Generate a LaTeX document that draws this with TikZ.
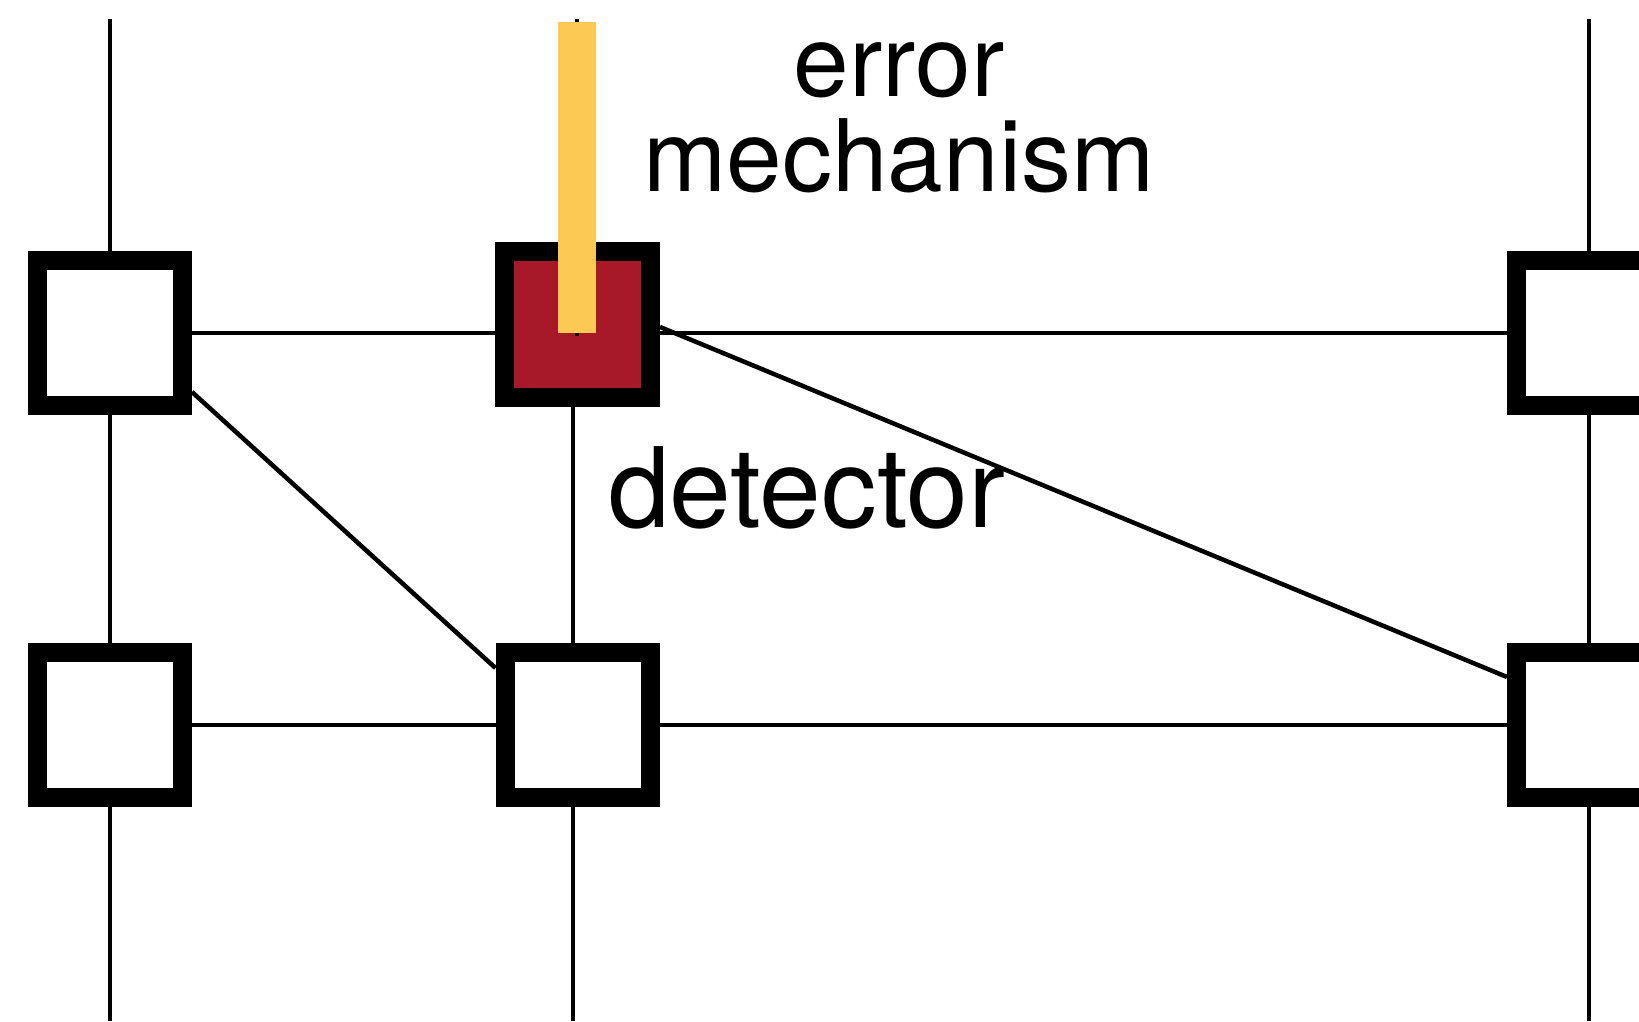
\documentclass[tikz,border=0pt]{standalone}
\usepackage{fontspec}
\setmainfont{TeX Gyre Heros}
\usetikzlibrary{calc}
\definecolor{errred}{RGB}{167,24,41}
\definecolor{erryellow}{RGB}{253,201,85}
\pgfdeclarelayer{bg}
\pgfsetlayers{bg,main}
\begin{document}
\begin{tikzpicture}[x=1pt,y=1pt,
  qbox/.style={draw=black,line width=19pt,fill=white,minimum size=145pt,inner sep=0pt},
  wire/.style={line width=4.5pt,draw=black},
  lbl/.style={inner sep=0pt,font=\fontsize{100}{95}\selectfont}]
\useasboundingbox (0,0) rectangle (1639,1021);
\node[qbox] (tl) at (110,688) {};
\node[qbox] (bl) at (110,296) {};
\node[qbox] (bm) at (577.5,296) {};
\node[qbox,fill=errred,minimum size=146pt] (em) at (577.5,696) {};
\node[qbox] (tr) at (1589,688) {};
\node[qbox] (br) at (1589,296) {};
\coordinate (lt) at (110,1002);
\coordinate (lb) at (110,0);
\coordinate (rt) at (1589,1002);
\coordinate (rb) at (1589,0);
\coordinate (mt) at (577,1002);
\coordinate (mk) at (577,685);
\coordinate (mb) at (573,0);
\begin{pgfonlayer}{bg}
\draw[wire] (lt) -- (lb);
\draw[wire] (rt) -- (rb);
\draw[wire] (em.south -| mb) -- (mb);
\draw[wire] (tl.center) -- (tr.center);
\draw[wire] (bl.center) -- (br.center);
\draw[wire] ($(tl.east)+(0,-59)$) -- ($(bm.west)+(0,57)$);
\draw[wire] ($(em.east)+(0,-2)$) -- ($(br.west)+(0,48)$);
\end{pgfonlayer}
\draw[wire] (mt) -- (mk);
\node[fill=erryellow,minimum width=38pt,minimum height=311pt,inner sep=0pt,outer sep=0pt,anchor=south] (bar) at (577,688) {};
\node[lbl,align=center,anchor=base] (errlbl) at (899,829) {error\\mechanism};
\node[lbl,font=\fontsize{111}{113}\selectfont,anchor=base west] (detlbl) at (608,493) {detector};
\end{tikzpicture}
\end{document}
